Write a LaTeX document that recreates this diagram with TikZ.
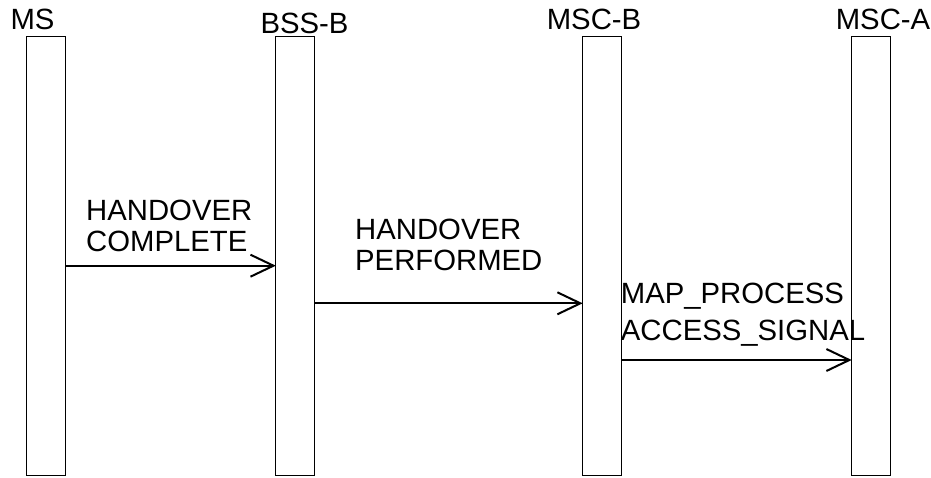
\documentclass[tikz,border=0pt]{standalone}
\usepackage{fontspec}
\setmainfont{Liberation Sans}
\usetikzlibrary{arrows.meta}

\tikzset{
  vida/.style={draw, line width=1.2pt, minimum width=39pt, minimum height=439pt, inner sep=0pt, outer sep=0pt},
  nombre/.style={anchor=base, inner sep=0pt},
  mensaje/.style={line width=2pt, -{Straight Barb[length=23pt,width=22pt]}},
  etiqueta/.style={anchor=base west, align=left, inner sep=0pt}
}

\begin{document}
\begin{tikzpicture}[x=1pt, y=-1pt, font=\fontsize{29.3}{31.6}\selectfont]
  \useasboundingbox (0,0) rectangle (931,477);

  % Lineas de vida
  \node[vida] (ms) at (46.2,256) {};
  \node[vida] (bssb) at (295.3,256) {};
  \node[vida] (mscb) at (602.2,256) {};
  \node[vida] (msca) at (871.2,256) {};

  % Nombres de las entidades
  \node[nombre] (nms) at (32.5,29) {MS};
  \node[nombre] (nbssb) at (304.5,33) {BSS-B};
  \node[nombre] (nmscb) at (594,29) {MSC-B};
  \node[nombre] (nmsca) at (883,29) {MSC-A};

  % Mensaje 1
  \coordinate (y1) at (0,265.7);
  \draw[mensaje] (ms.east |- y1) -- (bssb.west |- y1);
  \node[etiqueta] (t1) at (86,251.7) {HANDOVER\\COMPLETE};

  % Mensaje 2
  \coordinate (y2) at (0,303.3);
  \draw[mensaje] (bssb.east |- y2) -- (mscb.west |- y2);
  \node[etiqueta] (t2) at (355,270.7) {HANDOVER\\PERFORMED};

  % Mensaje 3
  \coordinate (y3) at (0,360);
  \draw[mensaje] (mscb.east |- y3) -- (msca.west |- y3);
  \node[etiqueta] (t3) at (620.7,340) {MAP\_PROCESS\\[5.4pt]ACCESS\_SIGNAL};
\end{tikzpicture}
\end{document}
